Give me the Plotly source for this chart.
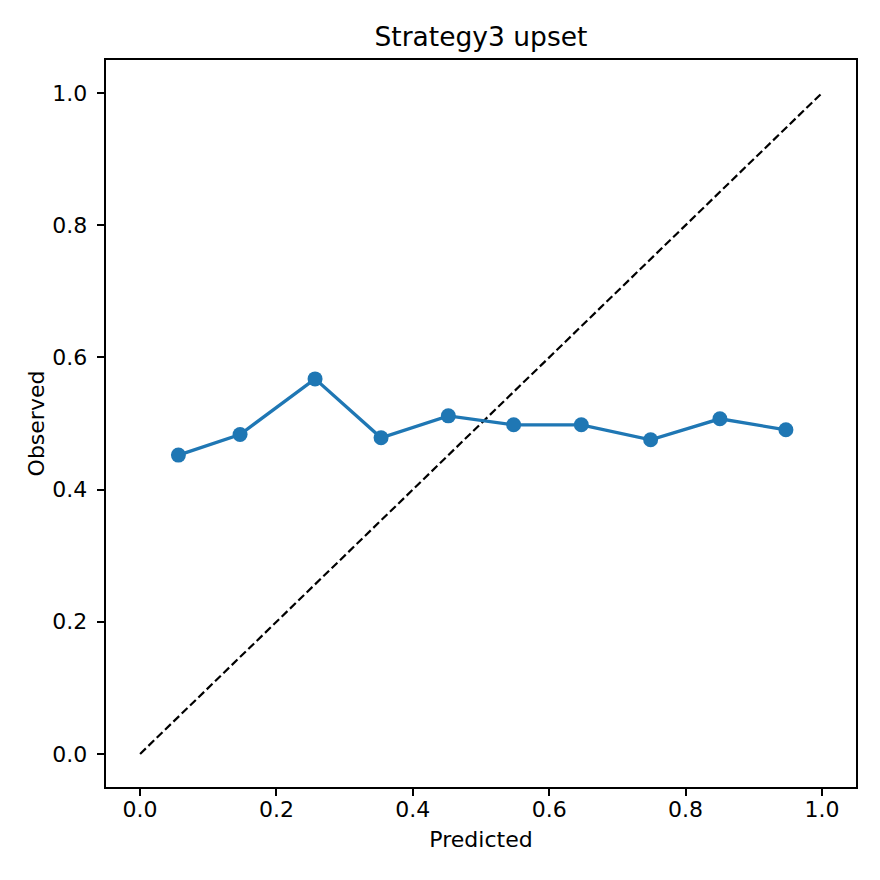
import plotly.graph_objects as go

predicted = [0.0562, 0.1466, 0.2566, 0.3534, 0.4521, 0.5479, 0.6471, 0.7488, 0.8504, 0.9472]
observed = [0.4522, 0.4834, 0.5675, 0.4784, 0.5116, 0.4980, 0.4980, 0.4753, 0.5071, 0.4905]
diag = [0.0, 1.0]
ticks = [0.0, 0.2, 0.4, 0.6, 0.8, 1.0]
tick_text = ["0.0", "0.2", "0.4", "0.6", "0.8", "1.0"]

FONT = "DejaVu Sans"

fig = go.Figure()
fig.add_trace(go.Scatter(x=diag, y=diag, mode="lines",
                         line=dict(color="black", width=2.2, dash="8px,3.6px"),
                         showlegend=False, hoverinfo="skip"))
fig.add_trace(go.Scatter(x=predicted, y=observed, mode="lines+markers",
                         line=dict(color="#1f77b4", width=3.3),
                         marker=dict(color="#1f77b4", size=15),
                         showlegend=False))

axis_common = dict(
    showgrid=False, zeroline=False, showline=True, linecolor="black", linewidth=1.8,
    mirror=True, ticks="outside", ticklen=7.5, tickwidth=1.8, tickcolor="black",
    tickvals=ticks, ticktext=tick_text,
    tickfont=dict(family=FONT, size=22, color="black"),
)

fig.update_layout(
    width=880, height=880,
    margin=dict(l=106, r=24, t=60, b=93),
    paper_bgcolor="white", plot_bgcolor="white",
    title=dict(text="Strategy3 upset", x=0.5465, xanchor="center", y=0.958, yanchor="middle",
               font=dict(family=FONT, size=26.5, color="black")),
    xaxis=dict(range=[-0.05, 1.05], ticklabelstandoff=-6,
               title=dict(text="Predicted", standoff=11,
                          font=dict(family=FONT, size=22, color="black")), **axis_common),
    yaxis=dict(range=[-0.05, 1.05], ticklabelstandoff=5,
               title=dict(text="Observed", standoff=2,
                          font=dict(family=FONT, size=22, color="black")), **axis_common),
)

fig.write_html("out.html")
